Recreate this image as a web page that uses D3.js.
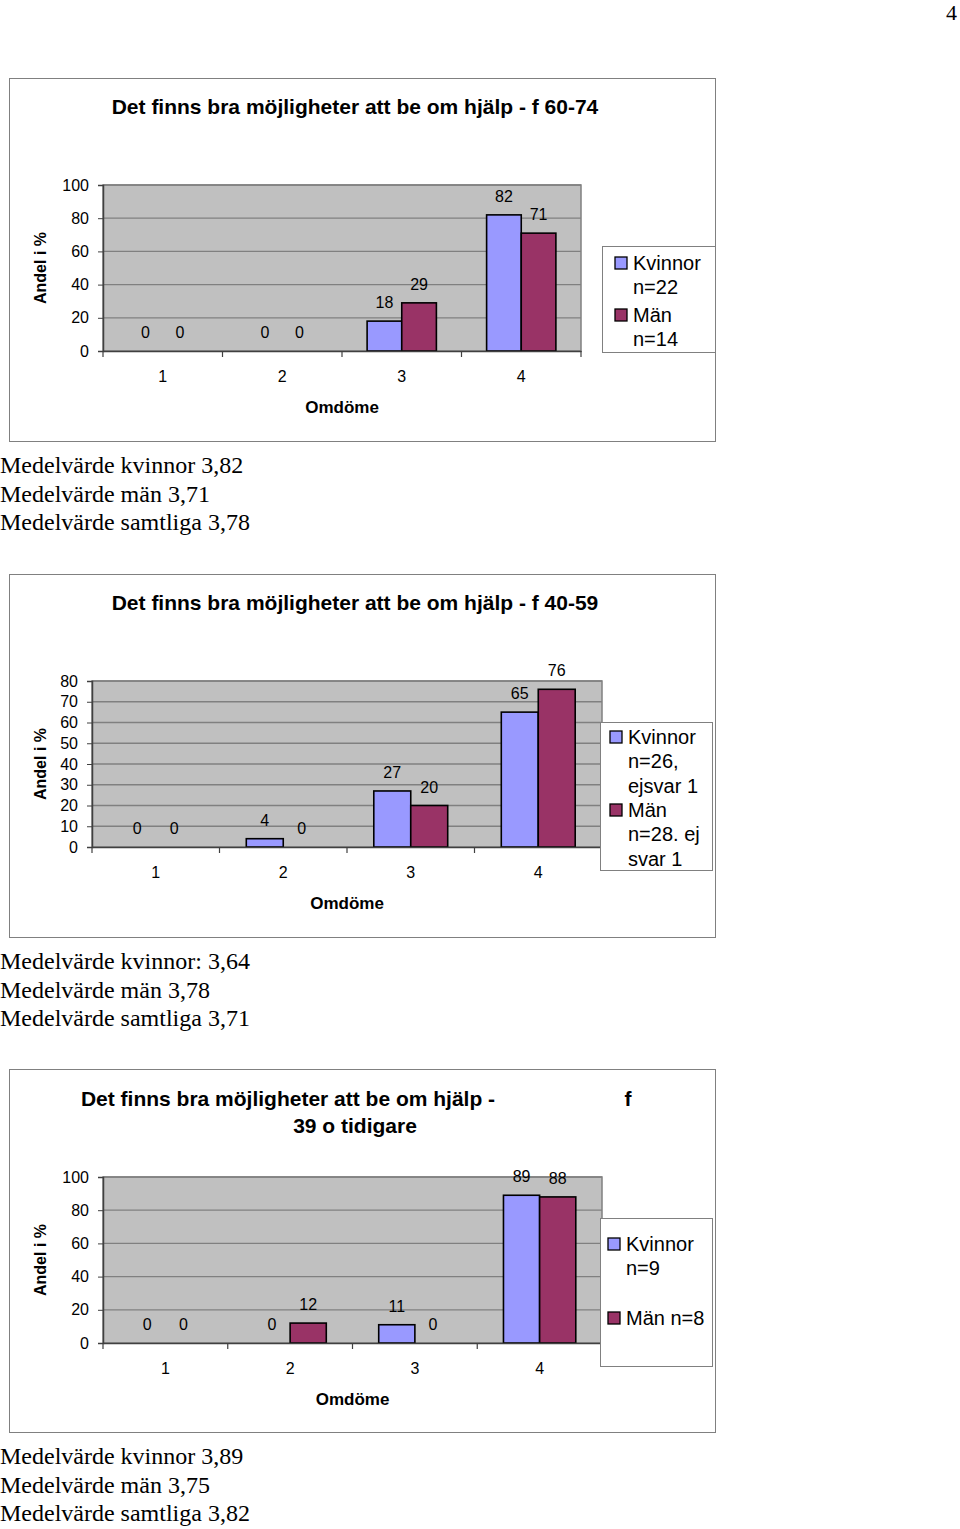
<!DOCTYPE html>
<html><head><meta charset="utf-8">
<script src="https://cdn.jsdelivr.net/npm/d3@7"></script>
<style>
body{margin:0;background:#fff;}
svg{display:block;}
</style></head>
<body>
<svg id="page" width="960" height="1529"></svg>
<script>
const categories = ["1","2","3","4"];
const seriesNames = ["Kvinnor","Män"];
const c1Kvinnor = [0,0,18,82];
const c1Man = [0,0,29,71];
const c2Kvinnor = [0,4,27,65];
const c2Man = [0,0,20,76];
const c3Kvinnor = [0,0,11,89];
const c3Man = [0,12,0,88];
const c1Ticks = [0,20,40,60,80,100];
const c2Ticks = [0,10,20,30,40,50,60,70,80];
const c3Ticks = [0,20,40,60,80,100];
const c1Legend = [["Kvinnor","n=22"],["Män","n=14"]];
const c2Legend = [["Kvinnor","n=26,","ejsvar 1"],["Män","n=28. ej","svar 1"]];
const c3Legend = [["Kvinnor","n=9"],["Män n=8"]];
const c1Notes = ["Medelvärde kvinnor 3,82","Medelvärde män 3,71","Medelvärde samtliga 3,78"];
const c2Notes = ["Medelvärde kvinnor: 3,64","Medelvärde män 3,78","Medelvärde samtliga 3,71"];
const c3Notes = ["Medelvärde kvinnor 3,89","Medelvärde män 3,75","Medelvärde samtliga 3,82"];

const colors = ["#9999FF","#993366"];
const svg = d3.select("#page");
const SANS = "'Liberation Sans', Arial, sans-serif";
const SERIF = "'Liberation Serif', 'Times New Roman', serif";

svg.append("text").attr("x",957).attr("y",20).attr("text-anchor","end")
  .attr("font-family",SERIF).attr("font-size",22).text("4");

function drawChart(cfg){
  const g = svg.append("g");
  g.append("rect").attr("x",9.5).attr("y",cfg.top+0.5).attr("width",706).attr("height",363)
    .attr("fill","#fff").attr("stroke","#808080").attr("stroke-width",1);
  cfg.title.forEach(t=>{
    g.append("text").attr("x",t.x).attr("y",cfg.top+t.dy).attr("text-anchor",t.anchor||"middle")
      .attr("font-family",SANS).attr("font-weight","bold").attr("font-size",21).text(t.text);
  });
  const x = d3.scaleBand().domain(categories).range([cfg.x0,cfg.x1]);
  const inner = d3.scaleBand().domain(seriesNames).range([0,x.bandwidth()]).paddingOuter(0.725).paddingInner(0);
  const y = d3.scaleLinear().domain([0,cfg.ymax]).range([cfg.y0,cfg.y1]);
  g.append("rect").attr("x",cfg.x0).attr("y",cfg.y1).attr("width",cfg.x1-cfg.x0).attr("height",cfg.y0-cfg.y1)
    .attr("fill","#C0C0C0").attr("stroke","#808080").attr("stroke-width",1.5);
  g.selectAll(null).data(cfg.ticks.filter(d=>d>0)).enter().append("line")
    .attr("x1",cfg.x0).attr("x2",cfg.x1).attr("y1",d=>y(d)).attr("y2",d=>y(d))
    .attr("stroke","#808080").attr("stroke-width",1.3);
  const data = [];
  categories.forEach((c,i)=>{
    data.push({c, s:"Kvinnor", v:cfg.k[i], col:colors[0]});
    data.push({c, s:"Män", v:cfg.m[i], col:colors[1]});
  });
  g.selectAll(null).data(data.filter(d=>d.v>0)).enter().append("rect")
    .attr("x",d=>x(d.c)+inner(d.s)).attr("width",inner.bandwidth())
    .attr("y",d=>y(d.v)).attr("height",d=>y(0)-y(d.v))
    .attr("fill",d=>d.col).attr("stroke","#000").attr("stroke-width",1.6);
  g.selectAll(null).data(data).enter().append("text")
    .attr("x",d=>x(d.c)+inner(d.s)+inner.bandwidth()/2).attr("y",d=>y(d.v)-13)
    .attr("text-anchor","middle").attr("font-family",SANS).attr("font-size",16).text(d=>d.v);
  const ya = d3.axisLeft(y).tickValues(cfg.ticks).tickSize(5).tickPadding(9);
  const ay = g.append("g").attr("transform",`translate(${cfg.x0},0)`).call(ya);
  ay.select(".domain").attr("stroke","#404040").attr("stroke-width",1.5);
  ay.selectAll(".tick line").attr("stroke","#404040");
  ay.selectAll(".tick text").attr("font-family",SANS).attr("font-size",16).attr("fill","#000");
  const xa = d3.axisBottom(x).tickSize(0).tickPadding(20);
  const ax = g.append("g").attr("transform",`translate(0,${cfg.y0})`).call(xa);
  ax.select(".domain").attr("stroke","#404040").attr("stroke-width",1.5);
  ax.selectAll(".tick text").attr("font-family",SANS).attr("font-size",16).attr("fill","#000");
  const bounds = categories.map(c=>x(c)).concat([cfg.x1]);
  g.selectAll(null).data(bounds).enter().append("line")
    .attr("x1",d=>d).attr("x2",d=>d).attr("y1",cfg.y0).attr("y2",cfg.y0+6)
    .attr("stroke","#404040").attr("stroke-width",1.2);
  g.append("text").attr("transform",`translate(46,${(cfg.y0+cfg.y1)/2}) rotate(-90)`)
    .attr("text-anchor","middle").attr("font-family",SANS).attr("font-weight","bold").attr("font-size",16).text("Andel i %");
  g.append("text").attr("x",(cfg.x0+cfg.x1)/2).attr("y",cfg.y0+62).attr("text-anchor","middle")
    .attr("font-family",SANS).attr("font-weight","bold").attr("font-size",17).text("Omdöme");
  const L = cfg.legend;
  g.append("rect").attr("x",L.x+0.5).attr("y",L.y+0.5).attr("width",L.w).attr("height",L.h)
    .attr("fill","#fff").attr("stroke","#808080").attr("stroke-width",1);
  cfg.legendItems.forEach((item,i)=>{
    const yy = L.y + L.rows[i];
    g.append("rect").attr("x",L.x+L.sq).attr("y",yy-13).attr("width",12).attr("height",12)
      .attr("fill",colors[i]).attr("stroke","#000").attr("stroke-width",1.3);
    item.forEach((line,j)=>{
      g.append("text").attr("x",L.x+L.sq+18).attr("y",yy+j*L.lh)
        .attr("font-family",SANS).attr("font-size",20).text(line);
    });
  });
  cfg.notes.forEach((n,i)=>{
    svg.append("text").attr("x",0).attr("y",cfg.notesY+i*28.5)
      .attr("font-family",SERIF).attr("font-size",24).text(n);
  });
}

drawChart({top:78, title:[{x:355,dy:36,text:"Det finns bra möjligheter att be om hjälp - f 60-74"}],
  x0:103,x1:581,y0:351,y1:185,ymax:100,ticks:c1Ticks,k:c1Kvinnor,m:c1Man,
  legend:{x:602,y:246,w:113,h:106,sq:13,rows:[24,76],lh:24},legendItems:c1Legend,
  notes:c1Notes,notesY:473});

drawChart({top:574, title:[{x:355,dy:36,text:"Det finns bra möjligheter att be om hjälp - f 40-59"}],
  x0:92,x1:602,y0:847,y1:681,ymax:80,ticks:c2Ticks,k:c2Kvinnor,m:c2Man,
  legend:{x:600,y:722,w:112,h:148,sq:10,rows:[22,95],lh:24.3},legendItems:c2Legend,
  notes:c2Notes,notesY:969});

drawChart({top:1069, title:[{x:288,dy:37,text:"Det finns bra möjligheter att be om hjälp -"},
    {x:628,dy:37,text:"f"},{x:355,dy:64,text:"39 o tidigare"}],
  x0:103,x1:602,y0:1343,y1:1177,ymax:100,ticks:c3Ticks,k:c3Kvinnor,m:c3Man,
  legend:{x:600,y:1218,w:112,h:148,sq:8,rows:[33,107],lh:24},legendItems:c3Legend,
  notes:c3Notes,notesY:1464});
</script>
</body></html>
